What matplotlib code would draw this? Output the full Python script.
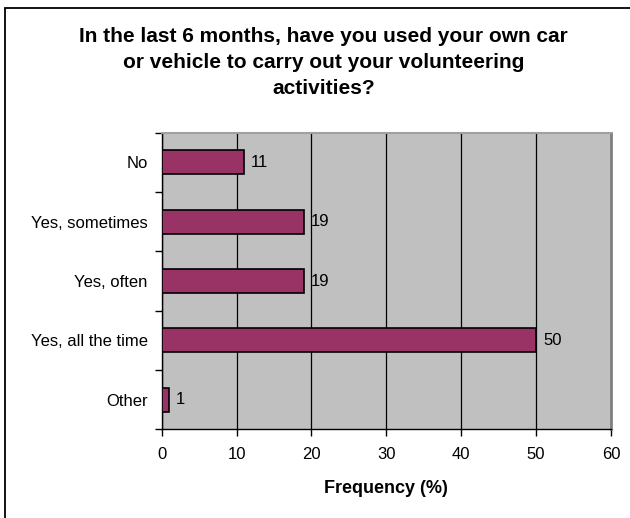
import matplotlib
matplotlib.use("Agg")
import matplotlib.pyplot as plt
from matplotlib.patches import Rectangle
import numpy as np

plt.rcParams['font.family'] = ['Liberation Sans', 'DejaVu Sans']

categories = ["No", "Yes, sometimes", "Yes, often", "Yes, all the time", "Other"]
values = [11, 19, 19, 50, 1]
xticks = [0, 10, 20, 30, 40, 50, 60]
title = "In the last 6 months, have you used your own car\nor vehicle to carry out your volunteering\nactivities?"
xlabel = "Frequency (%)"

W, H = 630, 518
fig = plt.figure(figsize=(W/100, H/100), dpi=100)
fig.patch.set_facecolor("white")

ax = fig.add_axes([161.7/W, (H-429.3)/H, (611-161.7)/W, (429.3-132.7)/H])
ax.set_facecolor("#C0C0C0")
n = len(categories)
y = np.arange(n)
ax.barh(y, values, height=0.4, color="#993366", edgecolor="black", linewidth=1.2, zorder=3)
ax.set_xlim(0, 60)
ax.set_ylim(n - 0.5, -0.5)
ax.set_xticks(xticks)
ax.set_xticklabels([str(t) for t in xticks], fontsize=12)
ax.set_yticks(y)
ax.set_yticklabels(categories, fontsize=12)
ax.tick_params(axis='y', which='major', length=0, pad=10)
ax.set_yticks(np.arange(n + 1) - 0.5, minor=True)
ax.tick_params(axis='y', which='minor', length=5, width=1, color="black", direction='out')
ax.tick_params(axis='x', which='major', length=5, width=1, color="black", direction='out', pad=8)
ax.grid(axis='x', color="black", linewidth=0.9, zorder=1)
ax.set_axisbelow(True)

for s in ['left', 'bottom']:
    ax.spines[s].set_color("black")
    ax.spines[s].set_linewidth(1.0)
ax.spines['top'].set_color("#A0A0A0")
ax.spines['top'].set_linewidth(1.5)
ax.spines['right'].set_color("#808080")
ax.spines['right'].set_linewidth(2.0)

for yi, v in zip(y, values):
    ax.annotate(str(v), (v, yi), xytext=(7, 0), textcoords='offset pixels',
                va='center', ha='left', fontsize=12)

ax.set_xlabel(xlabel, fontsize=13, fontweight='bold', labelpad=13)

fig.text(323.5/W, 1 - 27/H, title, ha='center', va='top', fontsize=15,
         fontweight='bold', linespacing=1.45)

fig.add_artist(Rectangle((5/W, -0.1), 2, (H - 8)/H + 0.1, transform=fig.transFigure,
                         fill=False, edgecolor="black", linewidth=1.3, clip_on=False))

fig.savefig("out.png", dpi=100)
